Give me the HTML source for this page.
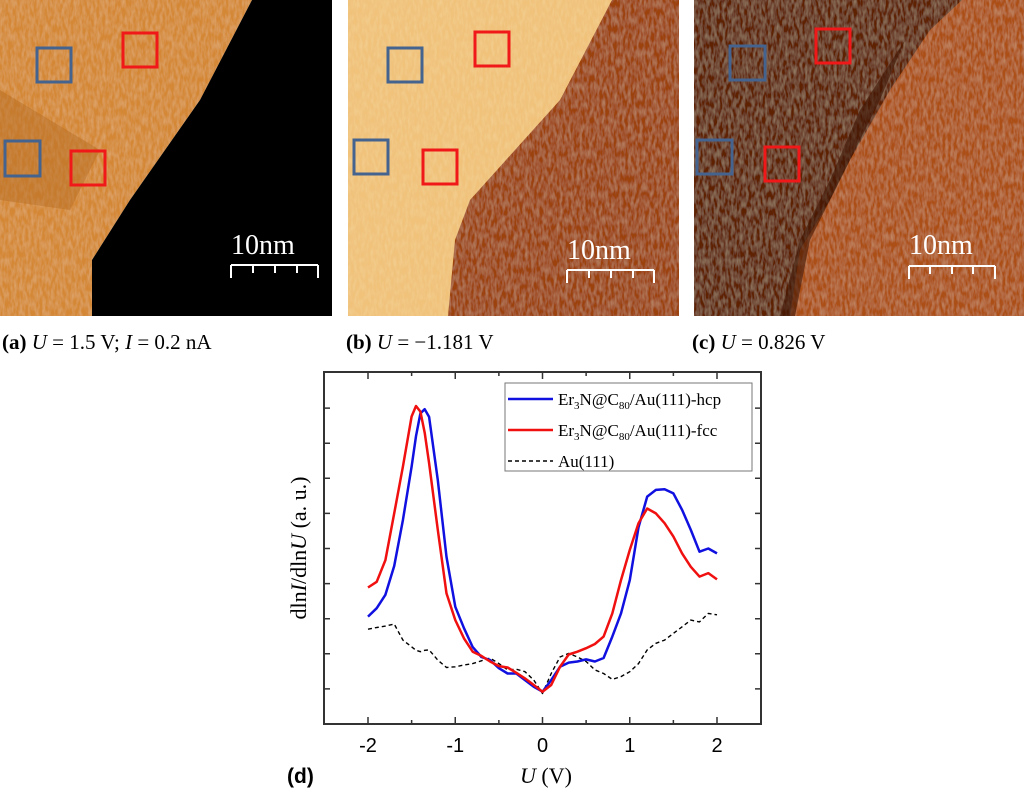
<!DOCTYPE html>
<html><head><meta charset="utf-8"><style>
html,body{margin:0;padding:0;background:#fff;width:1024px;height:794px;overflow:hidden}
svg{display:block}
.serif{font-family:"Liberation Serif",serif}
.sans{font-family:"Liberation Sans",sans-serif}
</style></head><body>
<svg id="fig" width="1024" height="794" viewBox="0 0 1024 794">
<defs>
<filter id="tex" x="0" y="0" width="100%" height="100%">
<feTurbulence type="fractalNoise" baseFrequency="0.35 0.12" numOctaves="2" seed="3" result="n"/>
<feColorMatrix in="n" type="matrix" values="0 0 0 0 1  0 0 0 0 0.9  0 0 0 0 0.6  0 0 0 0.35 -0.12" result="w"/>
<feComposite in="w" in2="SourceGraphic" operator="atop"/>
</filter>
</defs>
<!-- image a -->
<g>
<polygon points="0,0 252,0 200,100 130,200 92,260 92,316 0,316" fill="#d48836" filter="url(#tex)"/>
<polygon points="0,90 100,150 70,210 0,200" fill="#b86e24" opacity="0.5"/>
<polygon points="252,0 332,0 332,316 92,316 92,260 130,200 200,100" fill="#000"/>
<rect x="37" y="48" width="34" height="34" fill="none" stroke="#44638f" stroke-width="3"/>
<rect x="123" y="33" width="34" height="34" fill="none" stroke="#f01818" stroke-width="3"/>
<rect x="5" y="141" width="35" height="35" fill="none" stroke="#44638f" stroke-width="3"/>
<rect x="71" y="151" width="34" height="34" fill="none" stroke="#f01818" stroke-width="3"/>
<text x="231" y="254" class="serif" font-size="28" fill="#fff">10nm</text>
<g stroke="#fff" stroke-width="2" fill="none"><path d="M231,265H318M231,265v13M253,265v8M275,265v8M297,265v8M318,265v13"/></g>
</g>
<!-- image b -->
<g>
<rect x="348" y="0" width="331" height="316" fill="#9c4210" filter="url(#tex)"/>
<polygon points="348,0 612,0 560,100 470,200 455,240 448,316 348,316" fill="#f0c27a" filter="url(#tex)"/>
<rect x="475" y="32" width="34" height="34" fill="none" stroke="#f01818" stroke-width="3"/>
<rect x="388" y="48" width="34" height="34" fill="none" stroke="#44638f" stroke-width="3"/>
<rect x="354" y="140" width="34" height="34" fill="none" stroke="#44638f" stroke-width="3"/>
<rect x="423" y="150" width="34" height="34" fill="none" stroke="#f01818" stroke-width="3"/>
<text x="567" y="259" class="serif" font-size="28" fill="#fff">10nm</text>
<g stroke="#fff" stroke-width="2" fill="none"><path d="M567,270H654M567,270v13M589,270v8M611,270v8M633,270v8M654,270v13"/></g>
</g>
<!-- image c -->
<g>
<rect x="694" y="0" width="330" height="316" fill="#ac5018" filter="url(#tex)"/>
<polygon points="694,0 962,0 930,30 890,90 850,160 830,200 800,250 790,316 694,316" fill="#5e2206" filter="url(#tex)"/>
<polygon points="905,40 880,100 850,160 830,200 810,240 795,316 780,316 800,240 830,180 860,110" fill="#3e1402" opacity="0.6"/>
<rect x="816" y="29" width="34" height="34" fill="none" stroke="#f01818" stroke-width="3"/>
<rect x="730" y="46" width="35" height="34" fill="none" stroke="#44638f" stroke-width="3"/>
<rect x="697" y="140" width="35" height="34" fill="none" stroke="#44638f" stroke-width="3"/>
<rect x="765" y="147" width="34" height="34" fill="none" stroke="#f01818" stroke-width="3"/>
<text x="909" y="254" class="serif" font-size="28" fill="#fff">10nm</text>
<g stroke="#fff" stroke-width="2" fill="none"><path d="M909,266H995M909,266v13M930,266v8M952,266v8M973,266v8M995,266v13"/></g>
</g>
<!-- captions -->
<text x="2" y="349" class="serif" font-size="21"><tspan font-weight="bold">(a)</tspan> <tspan font-style="italic">U</tspan> = 1.5 V; <tspan font-style="italic">I</tspan> = 0.2 nA</text>
<text x="346" y="349" class="serif" font-size="21"><tspan font-weight="bold">(b)</tspan> <tspan font-style="italic">U</tspan> = −1.181 V</text>
<text x="692" y="349" class="serif" font-size="21"><tspan font-weight="bold">(c)</tspan> <tspan font-style="italic">U</tspan> = 0.826 V</text>
<g id="chart"></g>
</svg>
<script>
const xs=[-2,-1.9,-1.8,-1.7,-1.6,-1.5,-1.45,-1.4,-1.35,-1.3,-1.2,-1.1,-1.0,-0.9,-0.8,-0.7,-0.6,-0.5,-0.4,-0.3,-0.2,-0.1,0,0.1,0.2,0.3,0.4,0.5,0.6,0.7,0.8,0.9,1.0,1.1,1.2,1.3,1.4,1.5,1.6,1.7,1.8,1.9,2.0];
const hcp=[3.06,3.3,3.68,4.5,5.81,7.33,8.2,8.85,8.97,8.75,6.95,4.76,3.34,2.73,2.19,1.91,1.82,1.59,1.44,1.44,1.25,1.06,0.92,1.25,1.63,1.75,1.78,1.84,1.78,1.88,2.49,3.15,4.1,5.6,6.48,6.67,6.69,6.57,6.1,5.53,4.91,5.0,4.86];
const fcc=[3.89,4.05,4.67,6.0,7.33,8.76,9.06,8.9,8.3,7.43,5.53,3.72,2.96,2.44,2.06,1.94,1.78,1.65,1.61,1.46,1.30,1.11,0.92,1.11,1.63,1.98,2.06,2.16,2.28,2.49,3.15,4.1,4.96,5.72,6.14,6.0,5.72,5.34,4.86,4.48,4.2,4.3,4.12];
const au=[2.7,2.75,2.79,2.85,2.39,2.2,2.1,2.06,2.1,2.11,1.82,1.61,1.63,1.68,1.72,1.8,1.88,1.72,1.54,1.56,1.49,1.25,0.87,1.44,1.91,2.01,1.91,1.78,1.54,1.44,1.27,1.35,1.49,1.72,2.11,2.30,2.39,2.58,2.77,2.96,2.91,3.15,3.11];
const xTicks=[-2,-1,0,1,2];
const xTickLabels=["-2","-1","0","1","2"];
const NS="http://www.w3.org/2000/svg";
const L=324,R=761,T=372,B=724;
const X=v=>542.5+v*87.25, Y=v=>B-v*35.1;
const g=document.getElementById('chart');
function mk(t,a){const e=document.createElementNS(NS,t);for(const k in a)e.setAttribute(k,a[k]);g.appendChild(e);return e;}
let fr=mk('rect',{x:L,y:T,width:R-L,height:B-T,fill:'none',stroke:'#333','stroke-width':2});


for(let v=-2;v<=2.001;v+=0.5){const major=Math.abs(v-Math.round(v))<1e-6;const len=major?7:4;
 let t=mk('path',{d:`M${X(v)},${B}v${-len}M${X(v)},${T}v${len}`,stroke:'#333','stroke-width':1.5});
 
 }
for(let k=1;k<=9;k++){let t=mk('path',{d:`M${L},${Y(k)}h6M${R},${Y(k)}h-6`,stroke:'#333','stroke-width':1.5});
 
 }
xTicks.forEach((v,i)=>{let t=mk('text',{x:X(v),y:752,'text-anchor':'middle','font-size':20,class:'sans'});t.textContent=xTickLabels[i];
 
 });
function line(arr,col,dash,name){const d=arr.map((v,i)=>(i?'L':'M')+X(xs[i]).toFixed(1)+','+Y(v).toFixed(1)).join('');
 const p=mk('path',{d:d,fill:'none',stroke:col,'stroke-width':dash?1.4:2.5,'stroke-dasharray':dash?'4,3':'none','stroke-linejoin':'round'});
 
 }
line(au,'#000',true,'au111-line');
line(hcp,'#1010e0',false,'hcp-line');
line(fcc,'#f01010',false,'fcc-line');
let lg=mk('rect',{x:505,y:383,width:247,height:88,fill:'#fff',stroke:'#777','stroke-width':1});


const leg=[['#1010e0',0,'hcp'],['#f01010',0,'fcc'],['#000',1,'']];
leg.forEach((e,i)=>{const y=399+i*31;
 let s=mk('path',{d:`M508,${y}h45`,stroke:e[0],'stroke-width':e[1]?1.4:2.5,'stroke-dasharray':e[1]?'4,3':'none'});
 
 
 let t=mk('text',{x:558,y:y+6,'font-size':17,class:'serif'});
 t.innerHTML=e[2]?`Er<tspan font-size="11" dy="4">3</tspan><tspan dy="-4">N@C</tspan><tspan font-size="11" dy="4">80</tspan><tspan dy="-4">/Au(111)-${e[2]}</tspan>`:'Au(111)';
 
 });
let yt=mk('text',{transform:'translate(306,548) rotate(-90)','text-anchor':'middle','font-size':22,class:'serif'});
yt.innerHTML='dln<tspan font-style="italic">I</tspan>/dln<tspan font-style="italic">U</tspan> (a. u.)';


let xt=mk('text',{x:546,y:783,'text-anchor':'middle','font-size':22,class:'serif'});
xt.innerHTML='<tspan font-style="italic">U</tspan> (V)';


let dl=mk('text',{x:287,y:783,'font-size':21,'font-weight':'bold',class:'sans'});
dl.textContent='(d)';


</script>
</body></html>
